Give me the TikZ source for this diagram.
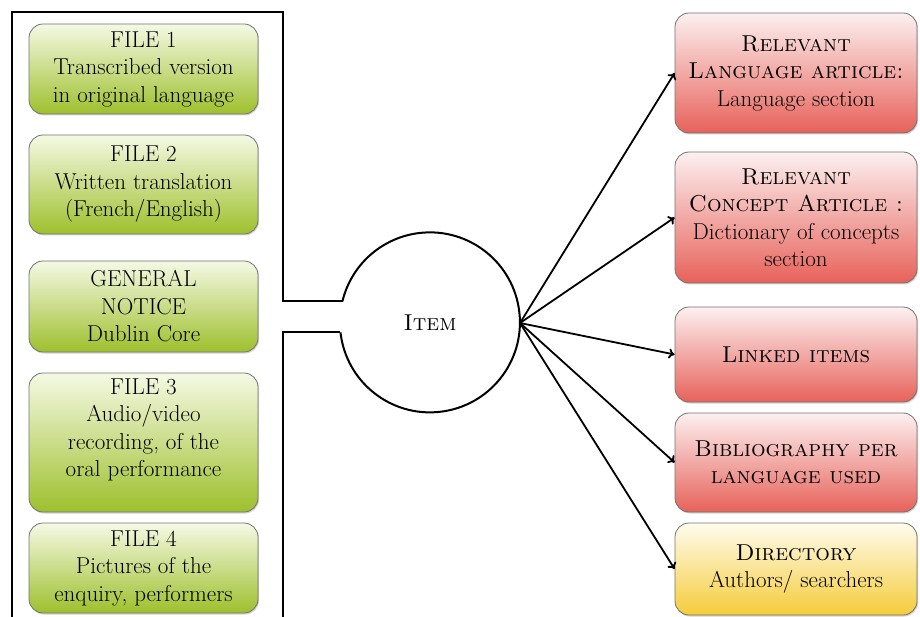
\documentclass[tikz,border=0pt]{standalone}
\usepackage{fontspec}
\usetikzlibrary{arrows.meta,shadows}
\definecolor{greentop}{RGB}{245,249,228}
\definecolor{greenbot}{RGB}{158,192,45}
\definecolor{redtop}{RGB}{252,240,240}
\definecolor{redbot}{RGB}{231,98,90}
\definecolor{yeltop}{RGB}{255,252,238}
\definecolor{yelbot}{RGB}{245,204,58}
\tikzset{
  box/.style={rectangle, rounded corners=14pt, draw=black!55, line width=0.8pt,
    align=center, inner sep=1pt, font=\fontsize{23}{27.5}\selectfont,
    drop shadow={shadow xshift=1pt, shadow yshift=-1.5pt, opacity=0.35}},
  greenbox/.style={box, top color=greentop, bottom color=greenbot, minimum width=229pt},
  redbox/.style={box, top color=redtop, bottom color=redbot, minimum width=242pt},
  yelbox/.style={box, top color=yeltop, bottom color=yelbot, minimum width=242pt},
  frameline/.style={line width=2pt, black},
  link/.style={line width=1.8pt, -{To[length=6pt,width=10pt]}},
}
\begin{document}
\begin{tikzpicture}[x=1pt,y=-1pt]
\useasboundingbox (0,0) rectangle (920,617);
% left boxes
\node[greenbox, minimum height=90pt] (g1) at (143.5,69) {FILE 1\\Transcribed version\\in original language};
\node[greenbox, minimum height=99pt] (g2) at (143.5,184.5) {FILE 2\\Written translation\\(French/English)};
\node[greenbox, minimum height=91pt] (g3) at (143.5,306.5) {GENERAL\\NOTICE\\Dublin Core};
\node[greenbox, minimum height=139pt, text depth=30pt] (g4) at (143.5,442.5) {FILE 3\\Audio/video\\recording, of the\\oral performance};
\node[greenbox, minimum height=90pt] (g5) at (143.5,568) {FILE 4\\Pictures of the\\enquiry, performers};
% item
\node[circle, minimum size=180pt, inner sep=0pt, outer sep=0pt, font=\fontsize{23}{26}\selectfont] (item) at (430,323) {\textsc{Item}};
\draw[frameline] (item.186.4) arc[start angle=186.4, end angle=526.5, radius=90pt];
\coordinate (fa) at (12,625);
\coordinate (fb) at (12,12);
\coordinate (fc) at (283,12);
\coordinate (fd) at (fc |- item.166.5);
\coordinate (fe) at (fc |- item.186.4);
\coordinate (ff) at (283,625);
\draw[frameline] (fa) -- (fb) -- (fc) -- (fd) -- (item.166.5);
\draw[frameline] (item.186.4) -- (fe) -- (ff);
% right boxes
\node[redbox, minimum height=120pt] (r1) at (796,73) {\textsc{Relevant}\\\textsc{Language article:}\\Language section};
\node[redbox, minimum height=131pt] (r2) at (796,217.5) {\textsc{Relevant}\\\textsc{Concept Article :}\\Dictionary of concepts\\section};
\node[redbox, minimum height=95pt] (r3) at (796,354.5) {\textsc{Linked items}};
\node[redbox, minimum height=99pt] (r4) at (796,462.5) {\textsc{Bibliography per}\\\textsc{language used}};
\node[yelbox, minimum height=92pt] (r5) at (796,569) {\textsc{Directory}\\Authors/ searchers};
% arrows
\foreach \t in {r1,r2,r3,r4,r5}
  \draw[link] (item.east) -- (\t.west);
\end{tikzpicture}
\end{document}
